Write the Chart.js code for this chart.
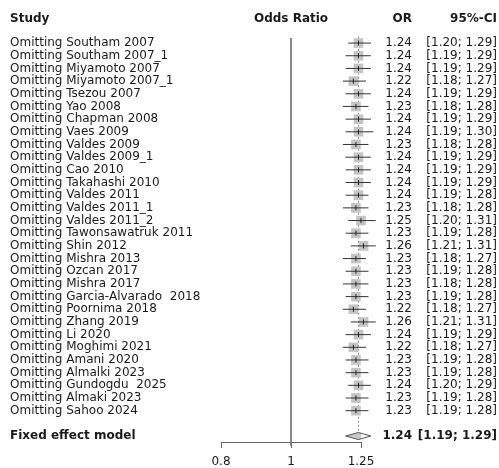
<!DOCTYPE html>
<html>
<head>
<meta charset="utf-8">
<script src="https://cdn.jsdelivr.net/npm/chart.js@4"></script>
<style>
  body { margin: 0; background: #fff; }
  canvas { display: block; }
</style>
</head>
<body>
<canvas id="chart" width="499" height="468"></canvas>
<script>
'use strict';

// studies (leave-one-out), OR and 95% CI as printed
const studies = [
  'Omitting Southam 2007', 'Omitting Southam 2007_1', 'Omitting Miyamoto 2007',
  'Omitting Miyamoto 2007_1', 'Omitting Tsezou 2007', 'Omitting Yao 2008',
  'Omitting Chapman 2008', 'Omitting Vaes 2009', 'Omitting Valdes 2009',
  'Omitting Valdes 2009_1', 'Omitting Cao 2010', 'Omitting Takahashi 2010',
  'Omitting Valdes 2011', 'Omitting Valdes 2011_1', 'Omitting Valdes 2011_2',
  'Omitting Tawonsawatruk 2011', 'Omitting Shin 2012', 'Omitting Mishra 2013',
  'Omitting Ozcan 2017', 'Omitting Mishra 2017', 'Omitting Garcia-Alvarado  2018',
  'Omitting Poornima 2018', 'Omitting Zhang 2019', 'Omitting Li 2020',
  'Omitting Moghimi 2021', 'Omitting Amani 2020', 'Omitting Almalki 2023',
  'Omitting Gundogdu  2025', 'Omitting Almaki 2023', 'Omitting Sahoo 2024'
];
const orValues = [
  1.24, 1.24, 1.24, 1.22, 1.24, 1.23, 1.24, 1.24, 1.23, 1.24,
  1.24, 1.24, 1.24, 1.23, 1.25, 1.23, 1.26, 1.23, 1.23, 1.23,
  1.23, 1.22, 1.26, 1.24, 1.22, 1.23, 1.23, 1.24, 1.23, 1.23
];
const ciLower = [
  1.20, 1.19, 1.19, 1.18, 1.19, 1.18, 1.19, 1.19, 1.18, 1.19,
  1.19, 1.19, 1.19, 1.18, 1.20, 1.19, 1.21, 1.18, 1.19, 1.18,
  1.19, 1.18, 1.21, 1.19, 1.18, 1.19, 1.19, 1.20, 1.19, 1.19
];
const ciUpper = [
  1.29, 1.29, 1.29, 1.27, 1.29, 1.28, 1.29, 1.30, 1.28, 1.29,
  1.29, 1.29, 1.28, 1.28, 1.31, 1.28, 1.31, 1.27, 1.28, 1.28,
  1.28, 1.27, 1.31, 1.29, 1.27, 1.28, 1.28, 1.29, 1.28, 1.28
];
const pooledLabel = 'Fixed effect model';
const pooled = [1.24, 1.19, 1.29]; // OR, lower, upper
const xTicks = [0.8, 1, 1.25];

const pooledRow = studies.length + 1;
const Y_MIN = -0.4, Y_MAX = pooledRow + 0.47;
const FONT = '"DejaVu Sans", sans-serif';
const fmt = v => v.toFixed(2);

// CI segments, separated by gaps
const ciData = [];
studies.forEach((s, i) => {
  ciData.push({ x: ciLower[i], y: i }, { x: ciUpper[i], y: i }, { x: null, y: null });
});

const diamondH = 0.28;
const diamondData = [
  { x: pooled[1], y: pooledRow },
  { x: pooled[0], y: pooledRow - diamondH },
  { x: pooled[2], y: pooledRow },
  { x: pooled[0], y: pooledRow + diamondH },
  { x: pooled[1], y: pooledRow }
];

const textPlugin = {
  id: 'forestText',
  afterDraw(chart) {
    const ctx = chart.ctx;
    const y = chart.scales.y;
    ctx.save();
    ctx.textBaseline = 'middle';
    ctx.fillStyle = '#1a1a1a';

    ctx.font = 'bold 12px ' + FONT;
    ctx.textAlign = 'left';
    ctx.fillText('Study', 10, 19);
    ctx.textAlign = 'center';
    ctx.fillText('Odds Ratio', 291, 19);
    ctx.textAlign = 'right';
    ctx.fillText('OR', 412, 19);
    ctx.fillText('95%-CI', 497, 19);

    ctx.font = '12px ' + FONT;
    studies.forEach((s, i) => {
      const py = y.getPixelForValue(i);
      ctx.textAlign = 'left';
      ctx.fillText(s, 10, py);
      ctx.textAlign = 'right';
      ctx.fillText(fmt(orValues[i]), 412, py);
      ctx.fillText('[' + fmt(ciLower[i]) + '; ' + fmt(ciUpper[i]) + ']', 497, py);
    });

    const pr = y.getPixelForValue(pooledRow);
    ctx.font = 'bold 12px ' + FONT;
    ctx.textAlign = 'left';
    ctx.fillText(pooledLabel, 10, pr);
    ctx.textAlign = 'right';
    ctx.fillText(fmt(pooled[0]), 412, pr);
    ctx.fillText('[' + fmt(pooled[1]) + '; ' + fmt(pooled[2]) + ']', 497, pr);
    ctx.restore();
  }
};

new Chart(document.getElementById('chart'), {
  type: 'scatter',
  data: {
    datasets: [
      {
        // no-effect line
        type: 'line',
        data: [{ x: 1, y: Y_MIN }, { x: 1, y: Y_MAX + 0.3 }],
        borderColor: '#777',
        borderWidth: 1,
        pointRadius: 0,
        clip: false,
        order: 5
      },
      {
        // pooled estimate dashed line
        type: 'line',
        data: [{ x: pooled[0], y: -0.5 }, { x: pooled[0], y: pooledRow - diamondH }],
        borderColor: '#888',
        borderWidth: 1,
        borderDash: [2, 2],
        pointRadius: 0,
        clip: false,
        order: 4
      },
      {
        // weight squares
        data: orValues.map((v, i) => ({ x: v, y: i })),
        pointStyle: 'rect',
        pointRadius: 6.8,
        backgroundColor: '#c4c4c4',
        borderWidth: 0,
        clip: false,
        order: 3
      },
      {
        // confidence intervals
        type: 'line',
        data: ciData,
        spanGaps: false,
        borderColor: '#333',
        borderWidth: 1,
        pointRadius: 0,
        clip: false,
        order: 2
      },
      {
        // point estimate tick
        data: orValues.map((v, i) => ({ x: v, y: i })),
        pointStyle: 'line',
        rotation: 90,
        pointRadius: 2.5,
        borderColor: '#222',
        borderWidth: 1,
        clip: false,
        order: 1
      },
      {
        // pooled diamond
        type: 'line',
        data: diamondData,
        fill: 'shape',
        backgroundColor: '#c8c8c8',
        borderColor: '#555',
        borderWidth: 1,
        pointRadius: 0,
        tension: 0,
        clip: false,
        order: 0
      }
    ]
  },
  options: {
    responsive: false,
    animation: false,
    events: [],
    layout: { padding: { left: 221, right: 138, top: 38, bottom: 0 } },
    plugins: { legend: { display: false }, tooltip: { enabled: false } },
    scales: {
      x: {
        type: 'logarithmic',
        min: 0.8,
        max: 1.25,
        afterBuildTicks: (scale) => { scale.ticks = xTicks.map(v => ({ value: v })); },
        afterFit: (scale) => { scale.height = 26; },
        grid: { drawOnChartArea: false, drawTicks: true, tickLength: 6, color: '#666' },
        border: { display: true, color: '#666' },
        ticks: {
          autoSkip: false,
          maxRotation: 0,
          padding: 7,
          color: '#1a1a1a',
          font: { family: FONT, size: 12 },
          callback: (v) => String(v)
        }
      },
      y: {
        type: 'linear',
        reverse: true,
        min: Y_MIN,
        max: Y_MAX,
        display: false
      }
    }
  },
  plugins: [textPlugin]
});
</script>
</body>
</html>
